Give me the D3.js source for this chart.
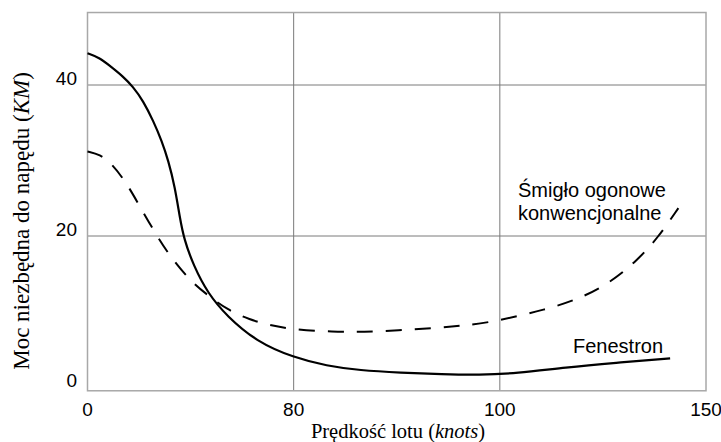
<!DOCTYPE html>
<html>
<head>
<meta charset="utf-8">
<script src="https://cdn.jsdelivr.net/npm/d3@7"></script>
<style>
  body { margin: 0; background: #fff; }
  .tick-label { font-family: "Liberation Sans", Arial, sans-serif; font-size: 19px; fill: #000; }
  .curve-label { font-family: "Liberation Sans", Arial, sans-serif; font-size: 20px; fill: #000; }
  .axis-title { font-family: "Liberation Serif", "Times New Roman", serif; fill: #000; }
</style>
</head>
<body>
<div id="chart"></div>
<script>
// x positions are on the drawn scale (0..150), tick labels as printed in the picture
const xTicks = [0, 50, 100, 150];
const xTickLabels = ["0", "80", "100", "150"];
const yTicks = [0, 20, 40];

// Fenestron (solid)
const fenX = [0, 3.0, 5.5, 8.5, 11.0, 13.5, 16.0, 18.0, 19.6, 21.2, 22.4, 23.4, 25.7, 29.3, 33.8, 41.0, 50.0, 58.0, 66.0, 76.0, 86.0, 95.0, 104.0, 116.0, 128.0, 141.3];
const fenY = [44.2, 43.6, 42.5, 41.2, 39.8, 37.9, 35.2, 32.6, 30.0, 26.5, 22.4, 19.6, 16.1, 12.3, 9.4, 6.0, 3.9, 2.8, 2.2, 1.9, 1.7, 1.6, 1.8, 2.6, 3.2, 3.8];

// Śmigło ogonowe konwencjonalne (dashed)
const tailX = [0, 3.0, 5.9, 9.5, 12.7, 16.4, 20.0, 25.0, 29.3, 34.0, 39.4, 44.0, 50.0, 59.6, 67.0, 75.4, 84.0, 90.7, 98.4, 111.4, 119.4, 126.7, 133.2, 138.4, 143.3];
const tailY = [31.2, 30.8, 29.6, 27.0, 23.9, 20.4, 17.3, 14.0, 12.1, 10.2, 8.9, 8.2, 7.6, 7.3, 7.3, 7.5, 7.8, 8.1, 8.6, 10.3, 11.7, 13.8, 16.7, 19.8, 23.7];

const width = 721, height = 442;
const yMin = -0.5, yMax = 49.6;

const svg = d3.select("#chart").append("svg")
    .attr("width", width)
    .attr("height", height);

const x = d3.scaleLinear().domain([0, 150]).range([87.5, 706]);
const y = d3.scaleLinear().domain([0, 40]).range([387, 85]);

// grid lines
svg.append("g")
    .selectAll("line")
    .data(yTicks.filter(d => d > 0))
    .enter().append("line")
      .attr("x1", x(0)).attr("x2", x(150))
      .attr("y1", d => y(d)).attr("y2", d => y(d))
      .attr("stroke", "#7a7a7a").attr("stroke-width", 1);

svg.append("g")
    .selectAll("line")
    .data(xTicks.filter(d => d > 0 && d < 150))
    .enter().append("line")
      .attr("x1", d => x(d)).attr("x2", d => x(d))
      .attr("y1", y(yMax)).attr("y2", y(yMin))
      .attr("stroke", "#7a7a7a").attr("stroke-width", 1);

// frame
svg.append("rect")
    .attr("x", x(0)).attr("y", y(yMax))
    .attr("width", x(150) - x(0))
    .attr("height", y(yMin) - y(yMax))
    .attr("fill", "none")
    .attr("stroke", "#a8a8a8")
    .attr("stroke-width", 1.5);

// tick labels
svg.append("g")
    .selectAll("text")
    .data(xTicks)
    .enter().append("text")
      .attr("class", "tick-label")
      .attr("x", d => x(d))
      .attr("y", 416)
      .attr("text-anchor", "middle")
      .text((d, i) => xTickLabels[i]);

svg.append("g")
    .selectAll("text")
    .data(yTicks)
    .enter().append("text")
      .attr("class", "tick-label")
      .attr("x", 77)
      .attr("y", d => y(d))
      .attr("text-anchor", "end")
      .text(d => d);

// curves
const line = d3.line()
    .x(d => x(d[0]))
    .y(d => y(d[1]))
    .curve(d3.curveBasis);

svg.append("path")
    .datum(fenX.map((v, i) => [v, fenY[i]]))
    .attr("d", line)
    .attr("fill", "none")
    .attr("stroke", "#000")
    .attr("stroke-width", 2.2);

svg.append("path")
    .datum(tailX.map((v, i) => [v, tailY[i]]))
    .attr("d", line)
    .attr("fill", "none")
    .attr("stroke", "#000")
    .attr("stroke-width", 2)
    .attr("stroke-dasharray", "16,13");

// curve labels
const tailLabel = svg.append("text")
    .attr("class", "curve-label")
    .attr("x", 518).attr("y", 196.5);
tailLabel.append("tspan").attr("x", 518).text("Śmigło ogonowe");
tailLabel.append("tspan").attr("x", 518).attr("dy", 23.5).text("konwencjonalne");

svg.append("text")
    .attr("class", "curve-label")
    .attr("x", 573).attr("y", 352.5)
    .text("Fenestron");

// axis titles
const xTitle = svg.append("text")
    .attr("class", "axis-title")
    .attr("x", 398).attr("y", 438)
    .attr("text-anchor", "middle")
    .style("font-size", "20.5px");
xTitle.append("tspan").text("Prędkość lotu (");
xTitle.append("tspan").style("font-style", "italic").text("knots");
xTitle.append("tspan").text(")");

const yTitle = svg.append("text")
    .attr("class", "axis-title")
    .attr("transform", "translate(29,221) rotate(-90)")
    .attr("text-anchor", "middle")
    .style("font-size", "23px");
yTitle.append("tspan").text("Moc niezbędna do napędu (");
yTitle.append("tspan").style("font-style", "italic").text("KM");
yTitle.append("tspan").text(")");
</script>
</body>
</html>
